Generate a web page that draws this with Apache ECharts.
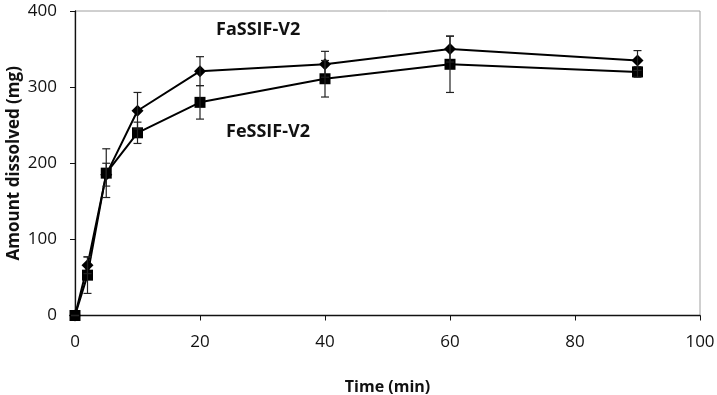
<!DOCTYPE html>
<html><head><meta charset="utf-8">
<script src="https://cdn.jsdelivr.net/npm/echarts@6/dist/echarts.min.js"></script>
<style>html,body{margin:0;padding:0;background:#fff}#c{width:717px;height:395px}</style>
</head><body><div id="c"></div>
<script>
const times = [0, 2, 5, 10, 20, 40, 60, 90];
const fasValues = [0, 66, 185, 269, 321, 330, 350, 335];
const fasErrors = [0, 11, 15, 24, 19, 17, 17, 13];
const fesValues = [0, 53, 187, 240, 280, 311, 330, 320];
const fesErrors = [0, 24, 32, 14, 22, 24, 37, 7];
const xTicks = [0, 20, 40, 60, 80, 100];
const yTicks = [0, 100, 200, 300, 400];
const fasName = 'FaSSIF-V2';
const fesName = 'FeSSIF-V2';

function pts(v){ return times.map((t,i)=>[t, v[i]]); }
function errData(v,e){ return times.map((t,i)=>[t, v[i]-e[i], v[i]+e[i]]); }
function errRender(params, api){
  const x = api.value(0);
  const lo = api.coord([x, api.value(1)]);
  const hi = api.coord([x, api.value(2)]);
  const w = 4;
  const st = {stroke:'#222', lineWidth:1.2};
  return {type:'group', children:[
    {type:'line', shape:{x1:lo[0],y1:lo[1],x2:hi[0],y2:hi[1]}, style:st},
    {type:'line', shape:{x1:lo[0]-w,y1:lo[1],x2:lo[0]+w,y2:lo[1]}, style:st},
    {type:'line', shape:{x1:hi[0]-w,y1:hi[1],x2:hi[0]+w,y2:hi[1]}, style:st}
  ]};
}
const chart = echarts.init(document.getElementById('c'));
const font = '"Open Sans", sans-serif';
chart.setOption({
  animation:false,
  grid:{left:75, right:17, top:11, bottom:79.5, containLabel:false, outerBoundsMode:'none',
    show:true, borderColor:'#a0a0a0', borderWidth:1},
  xAxis:{type:'value', min:0, max:100, interval:20,
    axisLine:{onZero:false, lineStyle:{color:'#111', width:1.3}},
    axisTick:{inside:false, length:5, lineStyle:{color:'#111'}},
    splitLine:{show:false},
    axisLabel:{color:'#111', fontSize:17, fontFamily:font, margin:18},
    name:'Time (min)', nameLocation:'middle', nameGap:64, nameMoveOverlap:false,
    nameTextStyle:{color:'#111', fontSize:16, fontWeight:'bold', fontFamily:font}},
  yAxis:{type:'value', min:0, max:400, interval:100,
    axisLine:{show:true, lineStyle:{color:'#111', width:1.3}},
    axisTick:{show:true, length:5, lineStyle:{color:'#111'}},
    splitLine:{show:false},
    axisLabel:{color:'#111', fontSize:17, fontFamily:font, margin:18},
    name:'Amount dissolved (mg)', nameLocation:'middle', nameGap:52, nameMoveOverlap:false,
    nameTextStyle:{color:'#111', fontSize:17, fontWeight:'bold', fontFamily:font}},
  graphic:[
    {type:'text', left:216, top:21, style:{text:fasName, font:'bold 18px '+font, fill:'#111'}},
    {type:'text', left:226, top:123, style:{text:fesName, font:'bold 18px '+font, fill:'#111'}}
  ],
  series:[
    {type:'line', name:fasName, data:pts(fasValues), symbol:'diamond', symbolSize:12,
      lineStyle:{color:'#000', width:2}, itemStyle:{color:'#000'}, z:3},
    {type:'line', name:fesName, data:pts(fesValues), symbol:'rect', symbolSize:11,
      lineStyle:{color:'#000', width:2}, itemStyle:{color:'#000'}, z:3},
    {type:'custom', data:errData(fasValues, fasErrors), renderItem:errRender, z:4},
    {type:'custom', data:errData(fesValues, fesErrors), renderItem:errRender, z:4}
  ]
});
</script></body></html>
